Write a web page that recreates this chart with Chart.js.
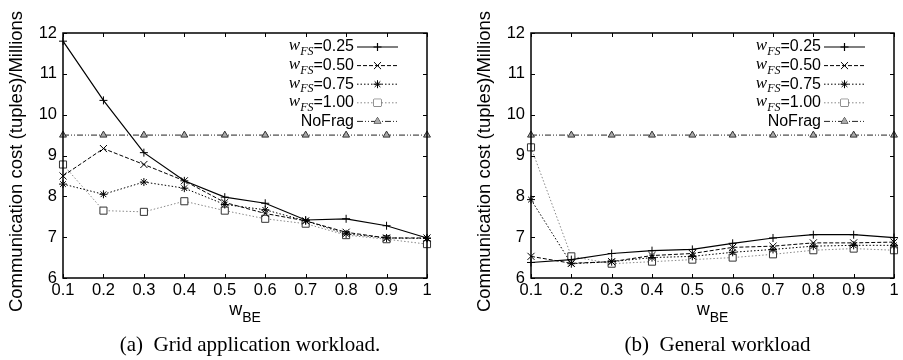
<!DOCTYPE html>
<html>
<head>
<meta charset="utf-8">
<script src="https://cdn.jsdelivr.net/npm/chart.js@4"></script>
<style>
  body { margin: 0; background: #fff; }
  #wrap { position: relative; width: 903px; height: 360px; }
  .panel { position: absolute; top: 0; height: 360px; }
</style>
</head>
<body>
<div id="wrap">
  <div class="panel" style="left:0;width:451px"><canvas id="gridChart"></canvas></div>
  <div class="panel" style="left:451px;width:452px"><canvas id="generalChart"></canvas></div>
</div>
<script>
// valores w_BE (eje x)
const wBE = ['0.1', '0.2', '0.3', '0.4', '0.5', '0.6', '0.7', '0.8', '0.9', '1'];
const yTicks = [6, 7, 8, 9, 10, 11, 12];

// (a) Grid application workload
const gridW025 = [11.80, 10.35, 9.07, 8.38, 7.98, 7.83, 7.42, 7.45, 7.28, 6.98];
const gridW050 = [8.50, 9.17, 8.78, 8.38, 7.85, 7.58, 7.40, 7.12, 6.98, 6.98];
const gridW075 = [8.30, 8.05, 8.35, 8.20, 7.80, 7.67, 7.40, 7.08, 6.98, 6.97];
const gridW100 = [8.78, 7.65, 7.62, 7.88, 7.65, 7.45, 7.33, 7.05, 6.95, 6.83];
const gridNoFrag = [9.5, 9.5, 9.5, 9.5, 9.5, 9.5, 9.5, 9.5, 9.5, 9.5];

// (b) General workload
const genW025 = [6.38, 6.45, 6.60, 6.67, 6.70, 6.85, 6.98, 7.06, 7.06, 6.99];
const genW050 = [6.53, 6.36, 6.40, 6.55, 6.60, 6.75, 6.78, 6.86, 6.86, 6.88];
const genW075 = [7.92, 6.35, 6.40, 6.50, 6.53, 6.63, 6.70, 6.78, 6.80, 6.80];
const genW100 = [9.20, 6.53, 6.35, 6.40, 6.45, 6.50, 6.58, 6.68, 6.72, 6.68];
const genNoFrag = [9.5, 9.5, 9.5, 9.5, 9.5, 9.5, 9.5, 9.5, 9.5, 9.5];

const seriesNames = ['0.25', '0.50', '0.75', '1.00', 'NoFrag'];

const SANS = '"Liberation Sans", Arial, sans-serif';
const SERIF = '"Liberation Serif", "Times New Roman", serif';

// estilo de cada serie (estilo gnuplot)
const estilos = [
  { color: '#000', dash: [], point: 'cross', radius: 4, fill: '#000', width: 1.2 },
  { color: '#000', dash: [4, 2], point: 'crossRot', radius: 5, fill: '#000', width: 1 },
  { color: '#000', dash: [1.5, 2], point: 'star', radius: 4, fill: '#000', width: 1 },
  { color: '#888', dash: [1.5, 2], point: 'rect', radius: 5, fill: '#fff', width: 1, pointColor: '#333' },
  { color: '#222', dash: [6, 2, 1, 2, 1, 2], point: 'triangle', radius: 4, fill: '#aaa', width: 1, pointColor: '#333' }
];

// plugin: marco, ticks hacia dentro, leyenda y textos
const decoraciones = {
  id: 'decoraciones',
  afterDraw(chart, args, opts) {
    const ctx = chart.ctx;
    const a = chart.chartArea;
    const xs = chart.scales.x, ys = chart.scales.y;
    ctx.save();
    ctx.strokeStyle = '#000';
    ctx.lineWidth = 1.5;
    ctx.setLineDash([]);
    ctx.strokeRect(a.left, a.top, a.right - a.left, a.bottom - a.top);
    ctx.lineWidth = 1;
    ctx.beginPath();
    xs.ticks.forEach((t, i) => {
      const x = Math.round(xs.getPixelForTick(i)) + 0.5;
      ctx.moveTo(x, a.bottom); ctx.lineTo(x, a.bottom - 4);
      ctx.moveTo(x, a.top); ctx.lineTo(x, a.top + 4);
    });
    ys.ticks.forEach(t => {
      const y = Math.round(ys.getPixelForValue(t.value)) + 0.5;
      ctx.moveTo(a.left, y); ctx.lineTo(a.left + 4, y);
      ctx.moveTo(a.right, y); ctx.lineTo(a.right - 4, y);
    });
    ctx.stroke();

    // leyenda
    const filas = [14, 32.6, 51.2, 69.8, 88.4];
    chart.data.datasets.forEach((ds, i) => {
      const e = estilos[i];
      const y = a.top + filas[i];
      const x0 = a.right - 70, x1 = a.right - 29;
      ctx.strokeStyle = e.color;
      ctx.lineWidth = e.width;
      ctx.setLineDash(e.dash);
      ctx.beginPath();
      ctx.moveTo(x0, y); ctx.lineTo(x1, y);
      ctx.stroke();
      ctx.setLineDash([]);
      ctx.fillStyle = e.fill;
      ctx.strokeStyle = e.pointColor || e.color;
      Chart.helpers.drawPoint(ctx, { pointStyle: e.point, radius: e.radius, borderWidth: 1 }, (x0 + x1) / 2, y);
      if (e.fill !== '#000') ctx.fill();

      ctx.fillStyle = '#000';
      ctx.textBaseline = 'middle';
      ctx.textAlign = 'right';
      let xr = a.right - 73;
      if (seriesNames[i] === 'NoFrag') {
        ctx.font = '16px ' + SANS;
        ctx.fillText('NoFrag', xr, y);
      } else {
        ctx.font = '16px ' + SANS;
        const txt = '=' + seriesNames[i];
        ctx.fillText(txt, xr, y);
        xr -= ctx.measureText(txt).width;
        ctx.font = 'italic 12px ' + SERIF;
        ctx.fillText('FS', xr, y + 5);
        xr -= ctx.measureText('FS').width;
        ctx.font = 'italic 17px ' + SERIF;
        ctx.fillText('w', xr, y - 1);
      }
    });

    // titulo eje y
    ctx.save();
    ctx.translate(a.left - 46, (a.top + a.bottom) / 2 + 6);
    ctx.rotate(-Math.PI / 2);
    ctx.textAlign = 'center';
    ctx.textBaseline = 'middle';
    ctx.font = '18.5px ' + SANS;
    ctx.fillText('Communication cost (tuples)/Millions', 0, 0);
    ctx.restore();

    // titulo eje x: w_BE
    const cx = (a.left + a.right) / 2;
    ctx.font = '18px ' + SANS;
    const ww = ctx.measureText('w').width;
    ctx.font = '14px ' + SANS;
    const wb = ctx.measureText('BE').width;
    let xl = cx - (ww + wb) / 2;
    ctx.textAlign = 'left';
    ctx.textBaseline = 'alphabetic';
    ctx.font = '18px ' + SANS;
    ctx.fillText('w', xl, 315);
    ctx.font = '14px ' + SANS;
    ctx.fillText('BE', xl + ww, 322);

    // pie de figura
    ctx.textAlign = 'center';
    ctx.font = '21px ' + SERIF;
    ctx.fillText(opts.caption, cx + 5, 351);
    ctx.restore();
  }
};

function crearGrafico(canvasId, valores, caption, yWidth, padRight) {
  const ctx = document.getElementById(canvasId).getContext('2d');
  const datasets = valores.map((data, i) => {
    const e = estilos[i];
    return {
      label: seriesNames[i],
      data: data,
      borderColor: e.color,
      borderWidth: e.width,
      borderDash: e.dash,
      pointStyle: e.point,
      pointRadius: e.radius,
      pointBorderColor: e.pointColor || e.color,
      pointBackgroundColor: e.fill,
      pointBorderWidth: 1,
      fill: false,
      tension: 0,
      clip: false
    };
  });
  return new Chart(ctx, {
    type: 'line',
    data: { labels: wBE, datasets: datasets },
    options: {
      responsive: true,
      maintainAspectRatio: false,
      animation: false,
      layout: { padding: { top: 33, right: padRight, bottom: 0, left: 0 } },
      plugins: {
        legend: { display: false },
        tooltip: { enabled: false },
        decoraciones: { caption: caption }
      },
      scales: {
        x: {
          type: 'category',
          offset: false,
          grid: { display: false, drawTicks: false },
          border: { display: false },
          ticks: { color: '#000', font: { family: SANS, size: 16.5 }, padding: 3, maxRotation: 0, autoSkip: false },
          afterFit: s => { s.height = 82; }
        },
        y: {
          min: 6, max: 12,
          grid: { display: false, drawTicks: false },
          border: { display: false },
          afterBuildTicks: s => { s.ticks = yTicks.map(v => ({ value: v })); },
          ticks: { color: '#000', font: { family: SANS, size: 16.5 }, padding: 6 },
          afterFit: s => { s.width = yWidth; }
        }
      }
    },
    plugins: [decoraciones]
  });
}

crearGrafico('gridChart', [gridW025, gridW050, gridW075, gridW100, gridNoFrag],
  '(a)  Grid application workload.', 63, 24);
crearGrafico('generalChart', [genW025, genW050, genW075, genW100, genNoFrag],
  '(b)  General workload', 80, 9);
</script>
</body>
</html>
